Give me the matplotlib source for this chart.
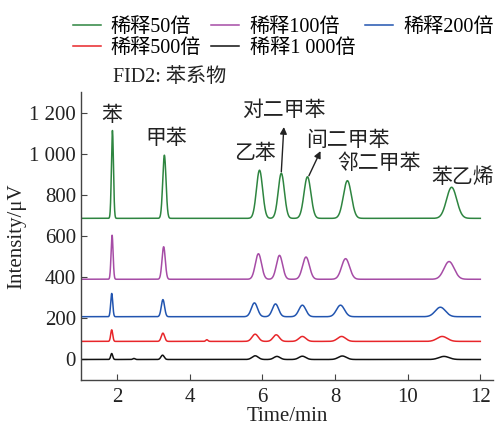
import numpy as np
import matplotlib
matplotlib.use("Agg")
import matplotlib.pyplot as plt

plt.rcParams['font.family'] = ['Liberation Serif', 'Noto Sans CJK SC']

# ---------------------------------------------------------------------------
# Data (peak time / peak top / baseline)
# ---------------------------------------------------------------------------
series_names = ["稀释50倍", "稀释100倍", "稀释200倍", "稀释500倍", "稀释1 000倍"]
series_colors = ["#2e8540", "#a64ca6", "#2255b0", "#e8262a", "#111111"]
baselines = [686, 390, 208, 88, 0]

# peak order: 苯, 甲苯, 乙苯, 对二甲苯, 间二甲苯, 邻二甲苯, 苯乙烯
peak_times = [
    [1.87, 3.30, 5.92, 6.52, 7.24, 8.34, 11.21],
    [1.86, 3.28, 5.89, 6.47, 7.20, 8.29, 11.14],
    [1.85, 3.26, 5.78, 6.36, 7.10, 8.15, 10.90],
    [1.85, 3.26, 5.80, 6.38, 7.10, 8.18, 10.95],
    [1.85, 3.25, 5.80, 6.40, 7.10, 8.20, 11.00],
]
peak_tops = [
    [1113, 993, 920, 905, 888, 869, 837],
    [604, 548, 514, 506, 498, 490, 476],
    [321, 291, 275, 270, 264, 264, 254],
    [144, 128, 123, 120, 112, 112, 112],
    [29, 21, 18, 15, 16, 17, 15],
]
peak_widths = [0.028, 0.045, 0.085, 0.085, 0.095, 0.11, 0.14]

# small extra bumps seen on the low traces
extra_bumps = {3: [(4.47, 8)], 4: [(2.46, 5)]}

compound_labels = ["苯", "甲苯", "乙苯", "对二甲苯", "间二甲苯", "邻二甲苯", "苯乙烯"]
label_xy = [(1.86, 1190), (3.34, 1075), (5.8, 1005), (6.58, 1215),
            (8.36, 1069), (9.2, 957), (11.5, 885)]

x_ticks = [2, 4, 6, 8, 10, 12]
y_ticks = [0, 200, 400, 600, 800, 1000, 1200]
y_ticklabels = ["0", "200", "400", "600", "800", "1 000", "1 200"]

# ---------------------------------------------------------------------------
t = np.linspace(1.0, 12.0, 3000)


def trace(base, times, tops, widths, bumps):
    y = np.full_like(t, float(base))
    for tc, top, w in zip(times, tops, widths):
        y += (top - base) * np.exp(-0.5 * ((t - tc) / w) ** 2)
    for tc, h in bumps:
        y += h * np.exp(-0.5 * ((t - tc) / 0.03) ** 2)
    return y


fig = plt.figure(figsize=(4.96, 4.28), dpi=100)
ax = fig.add_axes([0.163, 0.112, 0.831, 0.673])

lines = []
for i, name in enumerate(series_names):
    y = trace(baselines[i], peak_times[i], peak_tops[i], peak_widths,
              extra_bumps.get(i, []))
    ln, = ax.plot(t, y, color=series_colors[i], lw=1.1, label=name)
    lines.append(ln)

for lab, (xx, yy) in zip(compound_labels, label_xy):
    ax.text(xx, yy, lab, ha="center", va="center", fontsize=15,
            family=['Noto Sans CJK SC'], color="#222222")

# arrows for 对二甲苯 and 间二甲苯
ax.annotate("", xy=(6.59, 1130), xytext=(6.52, 912),
            arrowprops=dict(arrowstyle="-|>", color="#222222", lw=1.0,
                            mutation_scale=10, shrinkA=0, shrinkB=0))
ax.annotate("", xy=(7.60, 1013), xytext=(7.28, 893),
            arrowprops=dict(arrowstyle="-|>", color="#222222", lw=1.0,
                            mutation_scale=10, shrinkA=0, shrinkB=0))

ax.set_xlim(1, 12.35)
ax.set_ylim(-100, 1300)
ax.set_xticks(x_ticks)
ax.set_yticks(y_ticks)
ax.set_yticklabels(y_ticklabels)
ax.tick_params(labelsize=15, length=4, direction="in", color="#444444",
               labelcolor="#222222")
ax.tick_params(axis="x", pad=6)
for s in ["top", "right"]:
    ax.spines[s].set_visible(False)
for s in ["left", "bottom"]:
    ax.spines[s].set_color("#444444")
    ax.spines[s].set_linewidth(1.0)

ax.set_xlabel("Time/min", fontsize=15, color="#222222", labelpad=0)
ax.set_ylabel("Intensity/μV", fontsize=15, color="#222222", labelpad=2)

# row-wise legend order for ncol=3 (matplotlib fills columns first)
order = [0, 3, 1, 4, 2]
fig.legend(handles=[lines[k] for k in order], loc="upper left",
           bbox_to_anchor=(0.13, 0.976), borderaxespad=0,
           ncol=3, frameon=False, handlelength=1.4,
           columnspacing=0.5, handletextpad=0.5, labelspacing=0.08,
           prop={'family': ['Liberation Serif', 'Noto Sans CJK SC'], 'size': 14.5})

fig.text(0.228, 0.818, "FID2: 苯系物", fontsize=14.5, color="#222222", va="center")

fig.savefig("out.png", dpi=100)
